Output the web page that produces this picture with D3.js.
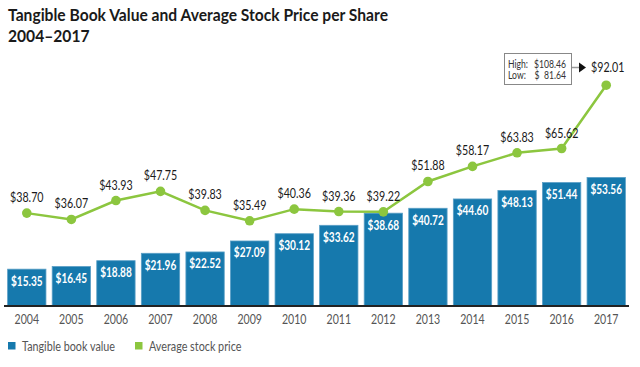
<!DOCTYPE html>
<html><head><meta charset="utf-8">
<script src="https://cdn.jsdelivr.net/npm/d3@7"></script>
<style>
html,body{margin:0;padding:0;background:#fff;}
svg{display:block;font-family:Lato,"Noto Sans",sans-serif;}
</style></head>
<body><svg id="c" width="640" height="367"></svg>
<script>
const years = ["2004","2005","2006","2007","2008","2009","2010","2011","2012","2013","2014","2015","2016","2017"];
const bookValue = [15.35,16.45,18.88,21.96,22.52,27.09,30.12,33.62,38.68,40.72,44.60,48.13,51.44,53.56];
const stockPrice = [38.70,36.07,43.93,47.75,39.83,35.49,40.36,39.36,39.22,51.88,58.17,63.83,65.62,92.01];
const titleLines = ["Tangible Book Value and Average Stock Price per Share","2004\u20132017"];
const legendLabels = ["Tangible book value","Average stock price"];
const annotationLines = [["High:","$108.46"],["Low:","$  81.64"]];

const barColor = "#1679ad", lineColor = "#8cc63f";
const svg = d3.select("#c");
const fmt = v => "$" + v.toFixed(2);

// condense text horizontally (reference font is narrower than the available ones)
function condense(sel, ratio) {
  sel.each(function() {
    const w = this.getComputedTextLength();
    this.setAttribute("textLength", (w * ratio).toFixed(2));
    this.setAttribute("lengthAdjust", "spacingAndGlyphs");
  });
}

const x = d3.scaleBand().domain(years).range([4.5, 628.5]).paddingInner(0.14).paddingOuter(0.07);
const y = d3.scaleLinear().domain([0, 100]).range([306, 66]);

// title
const title = svg.append("g").selectAll("text").data(titleLines).join("text")
  .attr("x", 8).attr("y", (d,i) => 21 + i*21)
  .attr("font-size", 17.5).attr("font-weight", 700).attr("fill", "#1a1a1a")
  .text(d => d);
condense(title, 380 / title.node().getComputedTextLength());

// bars
svg.append("g").selectAll("rect").data(bookValue).join("rect")
  .attr("x", (d,i) => x(years[i])).attr("width", x.bandwidth())
  .attr("y", d => y(d)).attr("height", d => y(0) - y(d))
  .attr("fill", barColor).attr("stroke", "#5a9fc6").attr("stroke-width", 0.8);

const barLabels = svg.append("g").selectAll("text").data(bookValue).join("text")
  .attr("x", (d,i) => x(years[i]) + x.bandwidth()/2).attr("y", d => y(d) + 16.5)
  .attr("text-anchor", "middle").attr("font-size", 13).attr("font-weight", 700)
  .attr("fill", "#fff").text(fmt);
condense(barLabels, 31.6 / barLabels.node().getComputedTextLength());

// axis
const xAxis = d3.axisBottom(x).tickSize(0).tickPadding(9);
const gx = svg.append("g").attr("transform", `translate(0,${y(0)})`).call(xAxis);
gx.select(".domain").attr("stroke", "#222").attr("stroke-width", 2).attr("d", "M4,0H629");
const yearLabels = gx.selectAll("text").attr("font-size", 13).attr("fill", "#555").attr("font-family", "Lato,sans-serif");
condense(yearLabels, 24.5 / yearLabels.node().getComputedTextLength());

// line
const cx = (i) => x(years[i]) + x.bandwidth()/2;
svg.append("path").datum(stockPrice)
  .attr("fill", "none").attr("stroke", lineColor).attr("stroke-width", 2.5)
  .attr("d", d3.line().x((d,i) => cx(i)).y(d => y(d)));
svg.append("g").selectAll("circle").data(stockPrice).join("circle")
  .attr("cx", (d,i) => cx(i)).attr("cy", d => y(d)).attr("r", 4.8).attr("fill", lineColor);
const ptLabels = svg.append("g").selectAll("text").data(stockPrice.slice(0, -1)).join("text")
  .attr("x", (d,i) => cx(i)).attr("y", d => y(d) - 11)
  .attr("text-anchor", "middle").attr("font-size", 13.5).attr("fill", "#1a1a1a").text(fmt);
const ptRatio = 33.5 / ptLabels.node().getComputedTextLength();
condense(ptLabels, ptRatio);

// annotation for last point
const last = stockPrice.length - 1;
svg.append("rect").attr("x", 504.5).attr("y", 53.5).attr("width", 67).attr("height", 31)
  .attr("fill", "#fff").attr("stroke", "#888").attr("stroke-width", 1);
const ag = svg.append("g");
annotationLines.forEach((l, i) => {
  ag.append("text").attr("x", 508).attr("y", 67.5 + i*11.5).attr("font-size", 11).attr("fill", "#333").text(l[0]);
  ag.append("text").attr("x", 566).attr("y", 67.5 + i*11.5).attr("font-size", 11).attr("fill", "#333")
    .attr("text-anchor", "end").attr("xml:space", "preserve").text(l[1]);
});
const agText = ag.selectAll("text");
condense(agText, 32 / agText.nodes()[1].getComputedTextLength());
svg.append("line").attr("x1", 572).attr("x2", 580).attr("y1", 67.5).attr("y2", 67.5)
  .attr("stroke", "#999").attr("stroke-width", 1.5);
svg.append("path").attr("d", "M579,62.5L586,67.5L579,72.5Z").attr("fill", "#111");
const lastLabel = svg.append("text").attr("x", 591).attr("y", 72).attr("font-size", 13.5).attr("fill", "#1a1a1a")
  .text(fmt(stockPrice[last]));
condense(lastLabel, ptRatio);

// legend
const lg = svg.append("g").selectAll("g").data(legendLabels).join("g")
  .attr("transform", (d,i) => `translate(${i ? 135 : 8},342)`);
lg.append("rect").attr("width", 7.5).attr("height", 7.5).attr("fill", (d,i) => i ? lineColor : barColor);
const lgText = lg.append("text").attr("x", 14).attr("y", 8.5).attr("font-size", 12.5).attr("fill", "#555").text(d => d);
condense(lgText, 93 / lgText.node().getComputedTextLength());
</script></body></html>
